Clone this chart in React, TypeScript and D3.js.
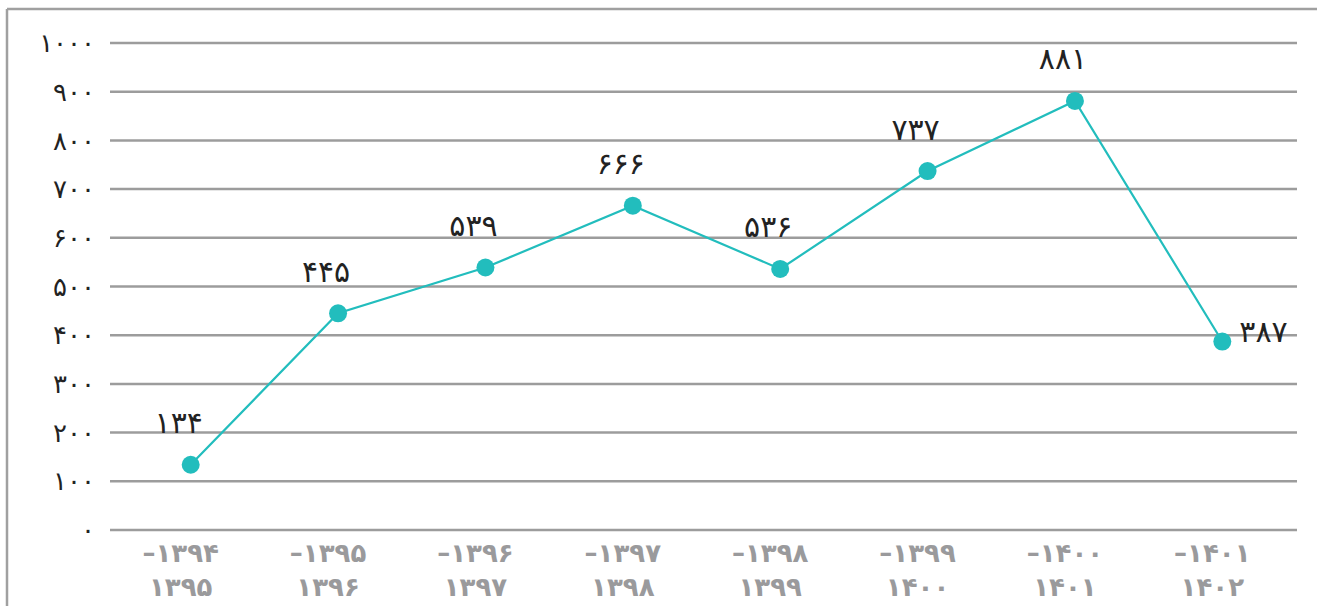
import React from "react";
import * as d3 from "d3";

const startYears = ["۱۳۹۴", "۱۳۹۵", "۱۳۹۶", "۱۳۹۷", "۱۳۹۸", "۱۳۹۹", "۱۴۰۰", "۱۴۰۱"];
const endYears = ["۱۳۹۵", "۱۳۹۶", "۱۳۹۷", "۱۳۹۸", "۱۳۹۹", "۱۴۰۰", "۱۴۰۱", "۱۴۰۲"];
const values = [134, 445, 539, 666, 536, 737, 881, 387];
const yTicks = [0, 100, 200, 300, 400, 500, 600, 700, 800, 900, 1000];

const toFa = (n: number) => String(n).replace(/\d/g, (d) => "۰۱۲۳۴۵۶۷۸۹"[+d]);

const W = 1317;
const H = 606;
const FONT = "'DejaVu Sans', sans-serif";

export default function App() {
  const x = d3.scalePoint<number>().domain(d3.range(values.length)).range([117, 1296]).padding(0.5);
  const y = d3.scaleLinear().domain([0, 1000]).range([530, 43]);
  const line = d3
    .line<number>()
    .x((_, i) => x(i)!)
    .y((d) => y(d));

  return (
    <svg width={W} height={H} style={{ position: "absolute", left: 0, top: 0, background: "#fff" }}>
      <line x1={7} x2={W} y1={9} y2={9} stroke="#a0a0a0" strokeWidth={2.5} />
      <line x1={7} x2={7} y1={9} y2={H} stroke="#a0a0a0" strokeWidth={2.5} />
      {yTicks.map((t) => (
        <g key={t}>
          <line x1={110} x2={1297} y1={y(t)} y2={y(t)} stroke="#9c9c9c" strokeWidth={2.5} />
          <text x={95} y={y(t)} dy="0.35em" textAnchor="end" fontFamily={FONT} fontSize={26} fill="#222">
            {toFa(t)}
          </text>
        </g>
      ))}
      {startYears.map((s, i) => (
        <g key={s}>
          <text x={x(i)! - 10} y={562} textAnchor="middle" fontFamily={FONT} fontWeight="bold" fontSize={26} fill="#9a9a9c">
            {"–" + s}
          </text>
          <text x={x(i)! - 10} y={596} textAnchor="middle" fontFamily={FONT} fontWeight="bold" fontSize={26} fill="#9a9a9c">
            {endYears[i]}
          </text>
        </g>
      ))}
      <path d={line(values)!} fill="none" stroke="#22bdbd" strokeWidth={2.2} />
      {values.map((v, i) => (
        <circle key={i} cx={x(i)!} cy={y(v)} r={9} fill="#22bdbd" />
      ))}
      {values.map((v, i) => {
        const last = i === values.length - 1;
        return (
          <text
            key={"l" + i}
            x={last ? x(i)! + 17 : x(i)! - 12}
            y={last ? y(v) - 10 : y(v) - 42}
            dy="0.35em"
            textAnchor={last ? "start" : "middle"}
            fontFamily={FONT}
            fontSize={30}
            fill="#222"
          >
            {toFa(v)}
          </text>
        );
      })}
    </svg>
  );
}
